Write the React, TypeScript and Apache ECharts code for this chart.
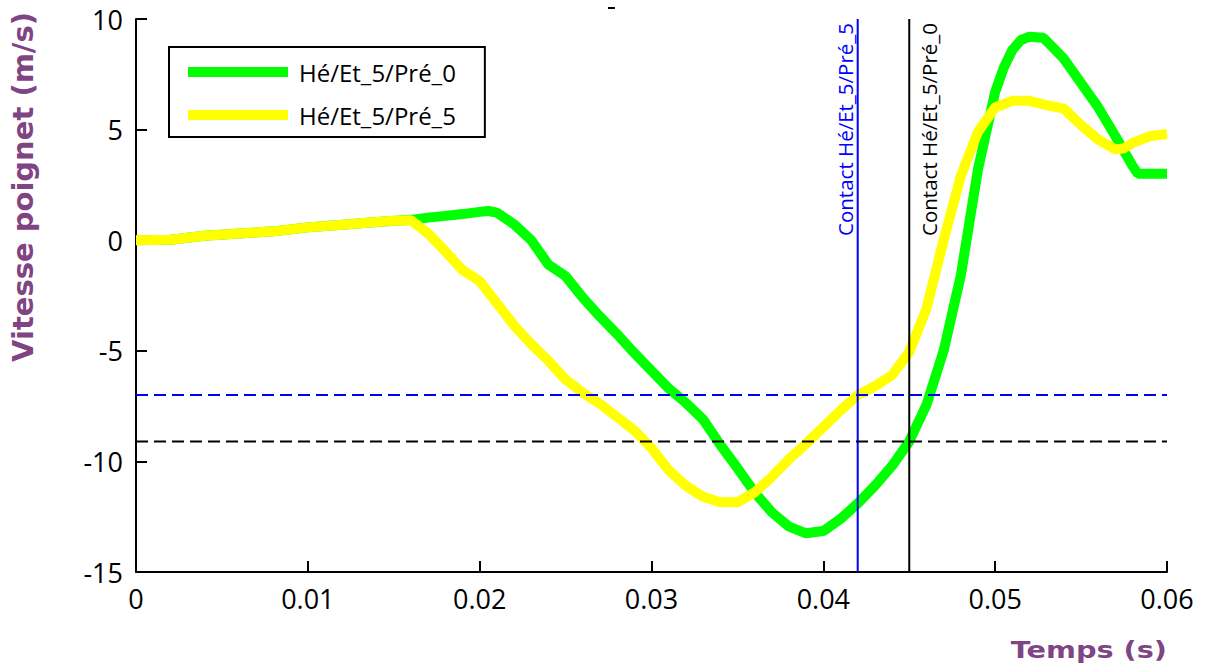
import React, { useEffect, useRef } from 'react';
import * as echarts from 'echarts';

// ---- data ----
const greenName = 'Hé/Et_5/Pré_0';
const yellowName = 'Hé/Et_5/Pré_5';

const greenT = [0, 0.002, 0.004, 0.006, 0.008, 0.010, 0.012, 0.014, 0.016, 0.017, 0.018, 0.019, 0.020,
  0.0205, 0.021, 0.022, 0.023, 0.024, 0.025, 0.026, 0.027, 0.028, 0.029, 0.030, 0.031, 0.032, 0.033,
  0.034, 0.035, 0.036, 0.037, 0.038, 0.039, 0.040, 0.041, 0.042, 0.043, 0.044, 0.045, 0.046, 0.047,
  0.048, 0.049, 0.050, 0.0505, 0.051, 0.0515, 0.052, 0.0528, 0.053, 0.054, 0.055, 0.056, 0.057, 0.058,
  0.0583, 0.060];
const greenV = [0, 0.02, 0.2, 0.3, 0.4, 0.58, 0.7, 0.82, 0.92, 1.02, 1.1, 1.18, 1.28,
  1.32, 1.25, 0.72, 0.0, -1.1, -1.62, -2.6, -3.45, -4.25, -5.1, -5.9, -6.7, -7.35, -8.1,
  -9.25, -10.3, -11.4, -12.3, -12.95, -13.25, -13.15, -12.6, -11.9, -11.1, -10.2, -9.1, -7.45, -5.0,
  -1.6, 3.2, 6.7, 7.8, 8.6, 9.05, 9.2, 9.15, 9.0, 8.2, 7.1, 6.0, 4.7, 3.35,
  3.0, 3.0];

const yellowT = [0, 0.002, 0.004, 0.006, 0.008, 0.010, 0.012, 0.014, 0.015, 0.016,
  0.017, 0.018, 0.019, 0.020, 0.021, 0.022, 0.023, 0.024, 0.025, 0.026,
  0.027, 0.028, 0.029, 0.030, 0.031, 0.032, 0.033, 0.034, 0.035, 0.036,
  0.037, 0.038, 0.039, 0.040, 0.041, 0.042, 0.043, 0.044, 0.045, 0.046,
  0.047, 0.048, 0.049, 0.050, 0.051, 0.052, 0.053, 0.054, 0.055, 0.056,
  0.057, 0.0575, 0.058, 0.059, 0.060];
const yellowV = [0, 0.02, 0.2, 0.3, 0.4, 0.58, 0.7, 0.82, 0.88, 0.9,
  0.3, -0.5, -1.35, -1.85, -2.85, -3.85, -4.7, -5.45, -6.3, -6.9,
  -7.4, -8.0, -8.6, -9.4, -10.4, -11.1, -11.6, -11.85, -11.85, -11.4,
  -10.7, -9.9, -9.2, -8.45, -7.7, -7.0, -6.6, -6.1, -5.05, -3.1,
  0.0, 2.9, 4.9, 6.0, 6.3, 6.3, 6.1, 5.95, 5.2, 4.55,
  4.1, 4.15, 4.4, 4.7, 4.8];

const contactT = [0.042, 0.045];          // blue (Pré_5), black (Pré_0)
const contactLabels = ['Contact Hé/Et_5/Pré_5', 'Contact Hé/Et_5/Pré_0'];
const thresholdV = [-7.0, -9.1];          // blue, black
const refColors = ['#0000ff', '#000000'];

const xMin = 0, xMax = 0.06, xStep = 0.01;
const yMin = -15, yMax = 10, yStep = 5;

const purple = '#7f4483';

export default function App() {
  const ref = useRef<HTMLDivElement>(null);
  useEffect(() => {
    if (!ref.current) return;
    const chart = echarts.init(ref.current, undefined, { renderer: 'svg' });
    const tickFont = { fontFamily: 'Open Sans', fontSize: 27, color: '#000' };
    const refSeries: any[] = [
      ...contactT.map((t, i) => ({
        name: 'contact' + i, type: 'line', symbol: 'none', silent: true, z: 5,
        data: [[t, yMin], [t, yMax]],
        lineStyle: { color: refColors[i], width: 2, type: 'solid' },
      })),
      ...thresholdV.map((v, i) => ({
        name: 'seuil' + i, type: 'line', symbol: 'none', silent: true, z: 5,
        data: [[xMin, v], [xMax, v]],
        lineStyle: { color: refColors[i], width: 2, type: [12, 6] },
      })),
    ];
    const option: any = {
      animation: false,
      backgroundColor: '#fff',
      grid: { left: 136, right: 41, top: 19, bottom: 98 },
      xAxis: {
        type: 'value', min: xMin, max: xMax, interval: xStep,
        axisLine: { onZero: false, lineStyle: { color: '#000', width: 2 } },
        axisTick: { inside: true, length: 11, lineStyle: { color: '#000', width: 2 } },
        axisLabel: { ...tickFont, margin: 13, formatter: (v: number) => (v === 0 ? '0' : v.toFixed(2)) },
        splitLine: { show: false },
      },
      yAxis: {
        type: 'value', min: yMin, max: yMax, interval: yStep,
        axisLine: { show: true, onZero: false, lineStyle: { color: '#000', width: 2 } },
        axisTick: { show: true, inside: true, length: 11, lineStyle: { color: '#000', width: 2 } },
        axisLabel: { ...tickFont, margin: 13 },
        splitLine: { show: false },
      },
      legend: {
        left: 169, top: 47, orient: 'vertical',
        data: [{ name: greenName, icon: 'rect' }, { name: yellowName, icon: 'rect' }],
        itemWidth: 100, itemHeight: 10, itemGap: 19,
        padding: [13, 29, 10, 19],
        borderColor: '#000', borderWidth: 2, backgroundColor: '#fff',
        textStyle: { fontFamily: 'Open Sans', fontSize: 24, color: '#000', padding: [0, 0, 0, 6] },
      },
      series: [
        {
          name: greenName, type: 'line', symbol: 'none',
          data: greenT.map((t, i) => [t, greenV[i]]),
          lineStyle: { color: '#00ff00', width: 10 }, itemStyle: { color: '#00ff00' }, z: 2,
        },
        {
          name: yellowName, type: 'line', symbol: 'none',
          data: yellowT.map((t, i) => [t, yellowV[i]]),
          lineStyle: { color: '#ffff00', width: 10 }, itemStyle: { color: '#ffff00' }, z: 3,
        },
        ...refSeries,
      ],
    };
    chart.setOption(option);

    const labelX = contactT.map((t) => chart.convertToPixel({ xAxisIndex: 0, yAxisIndex: 0 }, [t, yMax])[0]);
    const topY = chart.convertToPixel({ xAxisIndex: 0, yAxisIndex: 0 }, [0, yMax])[1];

    chart.setOption({
      graphic: [
        {
          type: 'text', x: 23, y: 187, rotation: Math.PI / 2,
          style: { text: 'Vitesse poignet (m/s)', fontFamily: 'DejaVu Sans', fontWeight: 'bold', fontSize: 29, fill: purple, align: 'center', verticalAlign: 'middle' },
        },
        {
          type: 'text', x: 1167, y: 650, scaleX: 1.25,
          style: { text: 'Temps (s)', fontFamily: 'DejaVu Sans', fontWeight: 'bold', fontSize: 23, fill: purple, align: 'right', verticalAlign: 'middle' },
        },
        {
          type: 'text', x: labelX[0] - 13, y: topY + 4, rotation: Math.PI / 2,
          style: { text: contactLabels[0], fontFamily: 'Open Sans', fontSize: 20.5, fill: refColors[0], align: 'right', verticalAlign: 'middle' },
        },
        {
          type: 'text', x: labelX[1] + 20, y: topY + 4, rotation: Math.PI / 2,
          style: { text: contactLabels[1], fontFamily: 'Open Sans', fontSize: 20.5, fill: refColors[1], align: 'right', verticalAlign: 'middle' },
        },
        { type: 'rect', shape: { x: 608, y: 7, width: 7, height: 2 }, style: { fill: '#000' } },
      ],
    });

    return () => chart.dispose();
  }, []);
  return <div ref={ref} style={{ position: 'fixed', left: 0, top: 0, width: 1208, height: 670, background: '#fff' }} />;
}
